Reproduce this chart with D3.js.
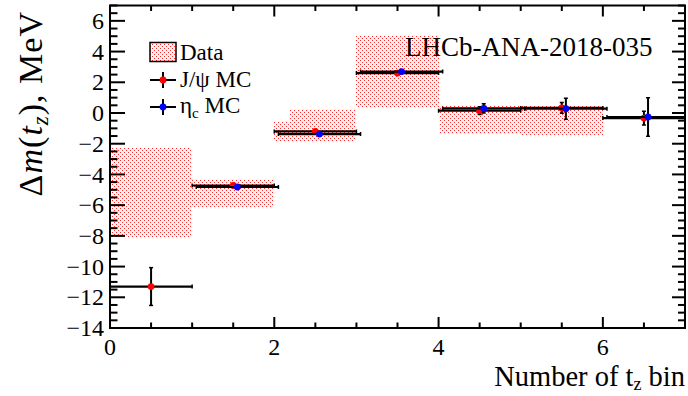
<!DOCTYPE html>
<html><head><meta charset="utf-8">
<script src="https://cdn.jsdelivr.net/npm/d3@7"></script>
<style>
html,body{margin:0;padding:0;background:#fff;}
svg{display:block;}
svg text{font-family:"Liberation Serif","Times New Roman",serif;}
</style></head>
<body><svg id="c" width="688" height="396"></svg>
<script>
// ---- data ----
const binLow   = [0, 1, 2, 3, 4, 5, 6];
const dataHi   = [-2.25, -4.3, 0.25, 5.1, 0.5, 0.45, null];
const dataLo   = [-8.1, -6.1, -1.8, 0.4, -1.35, -1.4, null];
const jpsiX    = [0.5, 1.5, 2.5, 3.5, 4.5, 5.5, 6.5];
const jpsiVal  = [-11.3, -4.72, -1.2, 2.6, 0.15, 0.33, -0.33];
const jpsiErr  = [1.23, 0.1, 0.1, 0.1, 0.25, 0.35, 0.45];
const etacX    = [0.55, 1.55, 2.55, 3.55, 4.55, 5.55, 6.55];
const etacVal  = [null, -4.82, -1.37, 2.7, 0.3, 0.28, -0.26];
const etacErr  = [null, 0.1, 0.1, 0.1, 0.3, 0.68, 1.25];
const xErr     = 0.5;
const xMajorTicks = [0, 2, 4, 6];
const yMajorTicks = [-14, -12, -10, -8, -6, -4, -2, 0, 2, 4, 6];
const legendLabels = ["Data", "J/ψ MC", "ηc MC"];

const SERIF = "Liberation Serif, Times New Roman, serif";
const svg = d3.select("#c");
const x = d3.scaleLinear().domain([0, 7]).range([110, 685]);
const y = d3.scaleLinear().domain([-14, 7]).range([328, 5.5]);

const defs = svg.append("defs");
const pat = defs.append("pattern").attr("id", "dots").attr("width", 4).attr("height", 4)
  .attr("patternUnits", "userSpaceOnUse");
pat.append("rect").attr("width", 4).attr("height", 4).attr("fill", "#fff8f8");
[[0,0],[2,2]].forEach(([a,b]) => pat.append("rect").attr("x", a).attr("y", b)
  .attr("width", 1).attr("height", 1).attr("fill", "#ff2a2a"));
defs.append("clipPath").attr("id", "clip").append("rect")
  .attr("x", x(0)).attr("y", y(7)).attr("width", x(7) - x(0)).attr("height", y(-14) - y(7));

const plot = svg.append("g").attr("clip-path", "url(#clip)");

// data boxes
const boxes = binLow.map((b, i) => ({b, hi: dataHi[i], lo: dataLo[i]})).filter(d => d.hi !== null);
plot.selectAll("rect.box").data(boxes).join("rect").attr("class", "box")
  .attr("x", d => x(d.b)).attr("width", d => x(d.b + 1) - x(d.b))
  .attr("y", d => y(d.hi)).attr("height", d => y(d.lo) - y(d.hi))
  .attr("fill", "url(#dots)").attr("shape-rendering", "crispEdges");

// legend background (white box like ROOT legend)
svg.append("rect").attr("x", 140).attr("y", 35).attr("width", 150).attr("height", 87).attr("fill", "#fff");

function drawSeries(xs, vals, errs, color) {
  const pts = xs.map((xx, i) => ({xx, v: vals[i], e: errs[i]})).filter(d => d.v !== null);
  const g = plot.append("g");
  const cap = 2;
  pts.forEach(d => {
    const cx = x(d.xx), cy = y(d.v);
    const x0 = x(d.xx - xErr), x1 = x(d.xx + xErr);
    const y0 = y(d.v + d.e), y1 = y(d.v - d.e);
    g.append("line").attr("x1", x0).attr("x2", x1).attr("y1", cy).attr("y2", cy)
      .attr("stroke", "#000").attr("stroke-width", 2.2);
    g.append("line").attr("x1", cx).attr("x2", cx).attr("y1", y0).attr("y2", y1)
      .attr("stroke", "#000").attr("stroke-width", 2);
    [x0, x1].forEach(xe => g.append("line").attr("x1", xe).attr("x2", xe)
      .attr("y1", cy - cap).attr("y2", cy + cap).attr("stroke", "#000").attr("stroke-width", 1.5));
    [y0, y1].forEach(ye => g.append("line").attr("x1", cx - cap).attr("x2", cx + cap)
      .attr("y1", ye).attr("y2", ye).attr("stroke", "#000").attr("stroke-width", 1.5));
  });
  g.selectAll("circle").data(pts).join("circle")
    .attr("cx", d => x(d.xx)).attr("cy", d => y(d.v)).attr("r", 3.4).attr("fill", color);
}
drawSeries(jpsiX, jpsiVal, jpsiErr, "#ff0000");
drawSeries(etacX, etacVal, etacErr, "#0000ff");

// axes frame
const ax = svg.append("g").attr("stroke", "#000").attr("fill", "none");
ax.append("rect").attr("x", x(0)).attr("y", y(7)).attr("width", x(7) - x(0)).attr("height", y(-14) - y(7))
  .attr("stroke-width", 2);

// y ticks (left & right)
const yMinor = d3.range(-14, 7.01, 0.5);
yMinor.forEach(v => {
  const major = yMajorTicks.includes(v);
  const lenL = major ? 15 : 7.5, lenR = major ? 13 : 7;
  ax.append("line").attr("x1", x(0)).attr("x2", x(0) + lenL).attr("y1", y(v)).attr("y2", y(v)).attr("stroke-width", 2);
  ax.append("line").attr("x1", x(7)).attr("x2", x(7) - lenR).attr("y1", y(v)).attr("y2", y(v)).attr("stroke-width", 2);
});
// x ticks (bottom & top)
const xMinor = d3.range(0, 7.01, 0.5);
xMinor.forEach(v => {
  const major = xMajorTicks.includes(v);
  const len = major ? 11 : 5.5;
  ax.append("line").attr("x1", x(v)).attr("x2", x(v)).attr("y1", y(-14)).attr("y2", y(-14) - len).attr("stroke-width", 2);
  ax.append("line").attr("x1", x(v)).attr("x2", x(v)).attr("y1", y(7)).attr("y2", y(7) + len).attr("stroke-width", 2);
});

// tick labels
const lab = svg.append("g").attr("font-size", 24).attr("font-family", SERIF).attr("fill", "#000");
lab.selectAll("text.yl").data(yMajorTicks).join("text").attr("class", "yl")
  .attr("x", 104).attr("y", d => y(d)).attr("dy", "0.34em").attr("text-anchor", "end")
  .text(d => d < 0 ? "\u2212" + Math.abs(d) : d);
lab.selectAll("text.xl").data(xMajorTicks).join("text").attr("class", "xl")
  .attr("x", d => x(d)).attr("y", 355).attr("text-anchor", "middle").text(d => d);

// axis titles
const xt = svg.append("text").attr("x", 685).attr("y", 386).attr("text-anchor", "end")
  .attr("font-family", SERIF).attr("font-size", 28.5);
xt.append("tspan").text("Number of t");
xt.append("tspan").attr("font-size", 18).attr("dy", 4).text("z");
xt.append("tspan").attr("dy", -4).text(" bin");

const yt = svg.append("text").attr("transform", "translate(42,11) rotate(-90)")
  .attr("text-anchor", "end").attr("font-family", SERIF).attr("font-size", 34)
  .attr("letter-spacing", 1);
yt.append("tspan").text("Δ");
yt.append("tspan").attr("font-style", "italic").text("m");
yt.append("tspan").text("(");
yt.append("tspan").attr("font-style", "italic").text("t");
yt.append("tspan").attr("font-style", "italic").attr("font-size", 23).attr("dy", 6).text("z");
yt.append("tspan").attr("dy", -6).text("), MeV");

// LHCb label
svg.append("text").attr("x", 405).attr("y", 56).attr("font-family", SERIF).attr("font-size", 27).text("LHCb-ANA-2018-035");

// legend
const lg = svg.append("g").attr("font-size", 23).attr("font-family", SERIF);
lg.append("rect").attr("x", 150).attr("y", 42.5).attr("width", 26).attr("height", 19)
  .attr("fill", "url(#dots)").attr("stroke", "#000").attr("stroke-width", 1.5);
lg.append("text").attr("x", 180).attr("y", 60).text(legendLabels[0]);
[[80, "#ff0000"], [107, "#0000ff"]].forEach(([cy, col]) => {
  lg.append("line").attr("x1", 150).attr("x2", 176).attr("y1", cy).attr("y2", cy).attr("stroke", "#000").attr("stroke-width", 2);
  lg.append("line").attr("x1", 163).attr("x2", 163).attr("y1", cy - 8).attr("y2", cy + 8).attr("stroke", "#000").attr("stroke-width", 2);
  lg.append("circle").attr("cx", 163).attr("cy", cy).attr("r", 3.4).attr("fill", col);
});
lg.append("text").attr("x", 180).attr("y", 87).text(legendLabels[1]);
const et = lg.append("text").attr("x", 180).attr("y", 113);
et.append("tspan").text("η");
et.append("tspan").attr("font-size", 15).attr("dy", 5).text("c");
et.append("tspan").attr("dy", -5).text(" MC");
</script></body></html>
